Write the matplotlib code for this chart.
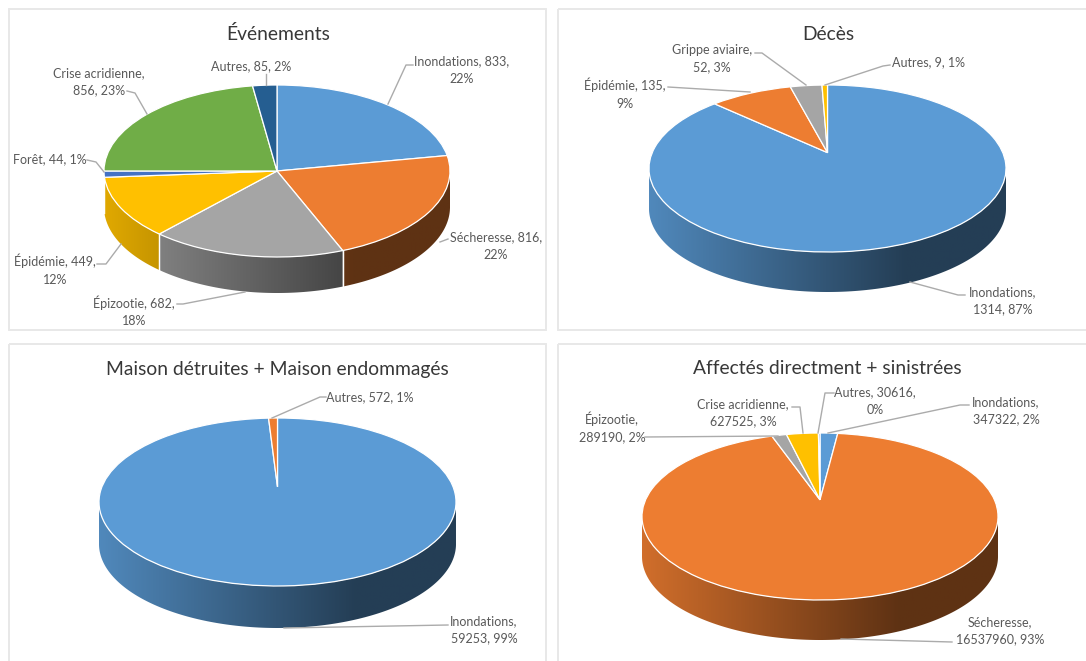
import matplotlib
matplotlib.use('agg')
import matplotlib.pyplot as plt
from matplotlib.patches import Polygon, Rectangle
import numpy as np

plt.rcParams['font.family'] = ['Lato', 'DejaVu Sans']

# chart values
evenements_values = [833, 816, 682, 449, 44, 856, 85]
deces_values = [1314, 135, 52, 9]
maisons_values = [59253, 572]
affectes_values = [347322, 16537960, 289190, 627525, 30616]

evenements_labels = ['Inondations, 833,\n22%', 'Sécheresse, 816,\n22%', 'Épizootie, 682,\n18%',
                     'Épidémie, 449,\n12%', 'Forêt, 44, 1%', 'Crise acridienne,\n856, 23%', 'Autres, 85, 2%']
deces_labels = ['Inondations,\n1314, 87%', 'Épidémie, 135,\n9%', 'Grippe aviaire,\n52, 3%', 'Autres, 9, 1%']
maisons_labels = ['Inondations,\n59253, 99%', 'Autres, 572, 1%']
affectes_labels = ['Inondations,\n347322, 2%', 'Sécheresse,\n16537960, 93%', 'Épizootie,\n289190, 2%',
                   'Crise acridienne,\n627525, 3%', 'Autres, 30616,\n0%']

titles = ['Événements', 'Décès', 'Maison détruites + Maison endommagés', 'Affectés directment + sinistrées']

# office colours, one list per chart
evenements_colors = ['#5B9BD5', '#ED7D31', '#A5A5A5', '#FFC000', '#4472C4', '#70AD47', '#255E91']
deces_colors = ['#5B9BD5', '#ED7D31', '#A5A5A5', '#FFC000']
maisons_colors = ['#5B9BD5', '#ED7D31']
affectes_colors = ['#5B9BD5', '#ED7D31', '#A5A5A5', '#FFC000', '#4472C4']

W, H = 1086, 661
fig = plt.figure(figsize=(W / 100, H / 100), dpi=100)

# layout in pixels: panel box, ellipse centre and radii, wall depth, apex shift
layouts = [
    dict(box=(9, 9, 546, 330), cx=277, cy=171, rx=173, ry=86, depth=36, apex=0.0, title_xy=(278, 34)),
    dict(box=(558, 9, 1090, 330), cx=827.5, cy=168.5, rx=178.5, ry=83.5, depth=40, apex=0.19, title_xy=(828, 34)),
    dict(box=(9, 344, 546, 665), cx=277.5, cy=502, rx=178.5, ry=84, depth=42, apex=0.18, title_xy=(277, 369)),
    dict(box=(558, 344, 1090, 665), cx=820, cy=516.5, rx=178, ry=83.5, depth=40, apex=0.2, title_xy=(827, 369)),
]

# text centres (first line y, pixels) and leader line points
evenements_text = [(462, 61), (496, 237), (134, 301), (55, 260), (50, 159), (99, 73), (251, 66)]
evenements_lead = [[(413, 65), (406, 65), (388, 104)],
                   [(448, 239), (440, 242)],
                   [(177, 304), (183, 304), (245, 292)],
                   [(97, 264), (106, 264), (121, 244)],
                   [(87, 160), (96, 162), (104, 172)],
                   [(127, 91), (135, 93), (147, 114)],
                   [(266, 74), (266, 85)]]
deces_text = [(1003, 292), (625, 84), (712, 50), (929, 62)]
deces_lead = [[(965, 295), (958, 295), (910, 282)],
              [(668, 87), (750, 92)],
              [(755, 53), (762, 53), (806, 85)],
              [(890, 65), (883, 66), (825, 85)]]
maisons_text = [(484, 621), (370, 397)]
maisons_lead = [[(448, 625), (284, 628)],
                [(326, 397), (320, 397), (272, 418)]]
affectes_text = [(1006, 402), (1000, 622), (612, 417), (743, 404), (875, 392)]
affectes_lead = [[(969, 405), (960, 405), (828, 433)],
                 [(952, 642), (841, 639)],
                 [(645, 437), (778, 436)],
                 [(792, 407), (800, 407), (803, 433)],
                 [(834, 393), (825, 393), (818, 433)]]


# moves the centre of the unit circle up to the apex, keeps the circle on itself
def perspective(x, y, a):
    d = 1 + a * y
    return x * np.sqrt(1 - a * a) / d, (y + a) / d


# horizontal shading of the wall, light on the left and dark from 70% on
def wall_shade(color, n=256):
    t = np.linspace(0, 1, n)
    mult = 0.88 - 0.48 * np.minimum(t / 0.72, 1)
    return np.array(matplotlib.colors.to_rgb(color))[None, None, :] * mult[None, :, None]


def pie_3d(ax, values, colors, layout):
    depth = layout['depth'] / layout['ry']
    a = layout['apex']
    wedges, _ = ax.pie(values, colors=colors, startangle=90, counterclock=False, radius=1,
                       wedgeprops=dict(edgecolor='white', linewidth=0.9, zorder=3))
    for w in wedges:
        v = w.get_path().vertices
        v[:, 0], v[:, 1] = perspective(v[:, 0].copy(), v[:, 1].copy(), a)

    xlim = ((layout['box'][0] - layout['cx']) / layout['rx'], (layout['box'][2] - layout['cx']) / layout['rx'])
    ylim = ((layout['cy'] - layout['box'][3]) / layout['ry'], (layout['cy'] - layout['box'][1]) / layout['ry'])

    # outer wall, one piece per slice, only the front half shows
    for w, color in zip(wedges, colors):
        t = np.radians(np.linspace(w.theta1, w.theta2, 400))
        x, y = perspective(np.cos(t), np.sin(t), a)
        front = y <= 0
        if front.sum() < 2:
            continue
        x, y = x[front], y[front]
        poly = Polygon(np.column_stack([np.r_[x, x[::-1]], np.r_[y, y[::-1] - depth]]),
                       closed=True, transform=ax.transData)
        im = ax.imshow(wall_shade(color), extent=(-1, 1, -1 - depth, 0.1), aspect='auto', zorder=1)
        im.set_clip_path(poly)
        for i in (0, -1):
            if abs(y[i]) > 0.02:
                ax.plot([x[i], x[i]], [y[i], y[i] - depth], color='white', lw=0.9, zorder=2)

    ax.set_aspect('auto')
    ax.set_xlim(xlim)
    ax.set_ylim(ylim)
    ax.axis('off')


charts = [
    (evenements_values, evenements_colors, evenements_labels, evenements_text, evenements_lead),
    (deces_values, deces_colors, deces_labels, deces_text, deces_lead),
    (maisons_values, maisons_colors, maisons_labels, maisons_text, maisons_lead),
    (affectes_values, affectes_colors, affectes_labels, affectes_text, affectes_lead),
]

for (values, colors, labels, text_pos, leads), layout in zip(charts, layouts):
    x0, y0, x1, y1 = layout['box']
    ax = fig.add_axes([x0 / W, 1 - y1 / H, (x1 - x0) / W, (y1 - y0) / H])
    pie_3d(ax, values, colors, layout)

# overlay in pixels for frames, titles, labels and leader lines
ov = fig.add_axes([0, 0, 1, 1], zorder=5)
ov.set_xlim(0, W)
ov.set_ylim(H, 0)
ov.axis('off')

for (values, colors, labels, text_pos, leads), layout, title in zip(charts, layouts, titles):
    x0, y0, x1, y1 = layout['box']
    ov.add_patch(Rectangle((x0, y0), x1 - x0, y1 - y0, fill=False, edgecolor='#E8E8E8', lw=1.4))
    ov.text(*layout['title_xy'], title, ha='center', va='center', fontsize=13.85, color='#383838')
    for label, (tx, ty), lead in zip(labels, text_pos, leads):
        ov.text(tx, ty - 6, label, ha='center', va='top', fontsize=9.0, color='#595959', linespacing=1.56)
        ov.plot([p[0] for p in lead], [p[1] for p in lead], color='#ABABAB', lw=1)

fig.savefig('out.png', dpi=100)
